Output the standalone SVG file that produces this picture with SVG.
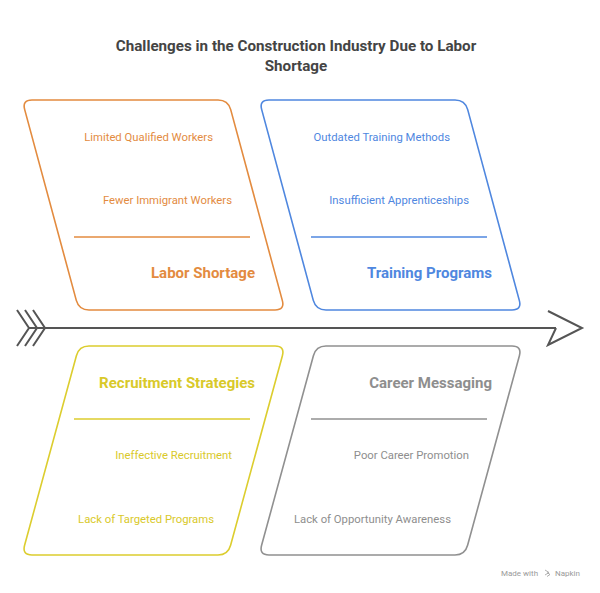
<svg xmlns="http://www.w3.org/2000/svg" width="600" height="593" viewBox="0 0 600 593">
<style>
text{font-family:Roboto,"Liberation Sans",sans-serif}
.title{font-size:15.2px;font-weight:bold;fill:#444;text-anchor:middle}
.item{font-size:11.3px;text-anchor:end}
.head{font-size:15px;font-weight:bold;text-anchor:end}
.shape{fill:#fff;stroke-width:1.6}
.div{stroke-width:1.6}
.o{fill:#E38B3F}.os{stroke:#E38B3F}
.b{fill:#4F87DF}.bs{stroke:#4F87DF}
.y{fill:#D9C92A}.ys{stroke:#DCCD2E}
.g{fill:#8E8E8E}.gs{stroke:#909090}
</style>
<rect width="600" height="593" fill="#fff"/>
<g id="title">
<text class="title" x="296" y="51">Challenges in the Construction Industry Due to Labor</text>
<text class="title" x="296" y="71">Shortage</text>
</g>
<g id="connectors" stroke="#555" stroke-width="2" fill="none">
<line x1="28" y1="328" x2="556" y2="328"/>
<polyline points="548,311 582,328 548,345 556,328"/>
<polyline points="17,310 29,328 17,346"/>
<polyline points="25,310 37,328 25,346"/>
<polyline points="33,310 45,328 33,346"/>
</g>
<g id="labor-shortage">
<path class="shape os" d="M32,100 L218,100 Q228,100 230.7,109.6 L282.3,300.4 Q285,310 275,310 L89,310 Q79,310 76.3,300.4 L24.7,109.6 Q22,100 32,100Z"/>
<text class="item o" x="213" y="141">Limited Qualified Workers</text>
<text class="item o" x="232" y="204">Fewer Immigrant Workers</text>
<line class="div os" x1="74" y1="237" x2="250" y2="237"/>
<text class="head o" x="255" y="278">Labor Shortage</text>
</g>
<g id="training-programs">
<path class="shape bs" d="M269,100 L455,100 Q465,100 467.7,109.6 L519.3,300.4 Q522,310 512,310 L326,310 Q316,310 313.3,300.4 L261.7,109.6 Q259,100 269,100Z"/>
<text class="item b" x="450" y="141">Outdated Training Methods</text>
<text class="item b" x="469" y="204">Insufficient Apprenticeships</text>
<line class="div bs" x1="311" y1="237" x2="487" y2="237"/>
<text class="head b" x="492" y="278">Training Programs</text>
</g>
<g id="recruitment-strategies">
<path class="shape ys" d="M89,346 L275,346 Q285,346 282.4,355.7 L230.6,545.3 Q228,555 218,555 L32,555 Q22,555 24.6,545.3 L76.4,355.7 Q79,346 89,346Z"/>
<text class="head y" x="255" y="388">Recruitment Strategies</text>
<line class="div ys" x1="74" y1="419" x2="250" y2="419"/>
<text class="item y" x="232" y="459">Ineffective Recruitment</text>
<text class="item y" x="214" y="523">Lack of Targeted Programs</text>
</g>
<g id="career-messaging">
<path class="shape gs" d="M326,346 L512,346 Q522,346 519.4,355.7 L467.6,545.3 Q465,555 455,555 L269,555 Q259,555 261.6,545.3 L313.4,355.7 Q316,346 326,346Z"/>
<text class="head g" x="492" y="388">Career Messaging</text>
<line class="div gs" x1="311" y1="419" x2="487" y2="419"/>
<text class="item g" x="469" y="459">Poor Career Promotion</text>
<text class="item g" x="451" y="523">Lack of Opportunity Awareness</text>
</g>
<g id="watermark" fill="#9a9a9a" font-size="8">
<text x="501" y="576">Made with</text>
<path d="M545,570 l4,2.5 l-4,2.5 M547,572.5 l3,2 l-3,2" stroke="#9a9a9a" stroke-width="0.8" fill="none"/>
<text x="555" y="576">Napkin</text>
</g>
</svg>
